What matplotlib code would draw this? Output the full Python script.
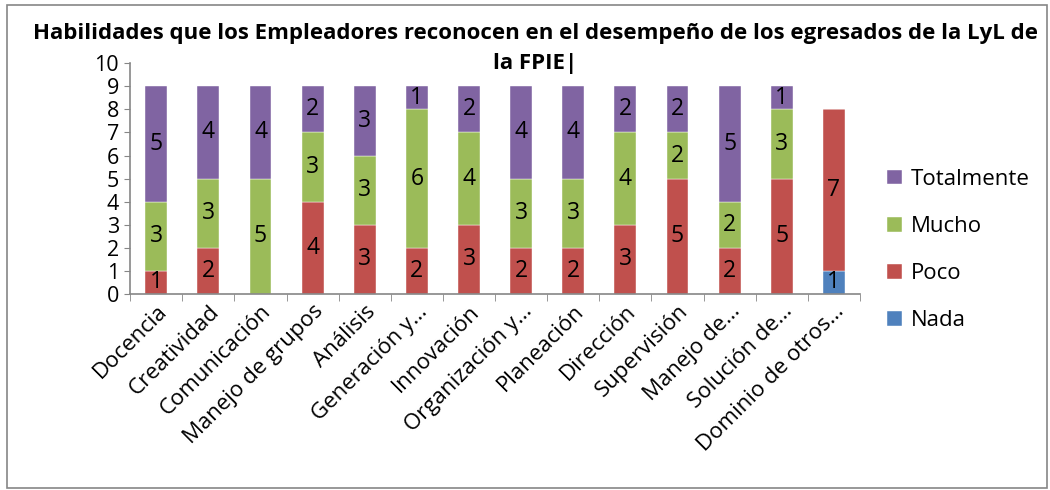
import numpy as np
import matplotlib.pyplot as plt
from matplotlib.patches import Rectangle

# Datos
categorias = ['Docencia', 'Creatividad', 'Comunicación', 'Manejo de grupos', 'Análisis',
              'Generación y…', 'Innovación', 'Organización y…', 'Planeación', 'Dirección',
              'Supervisión', 'Manejo de…', 'Solución de…', 'Dominio de otros…']
nada = [0, 0, 0, 0, 0, 0, 0, 0, 0, 0, 0, 0, 0, 1]
poco = [1, 2, 0, 4, 3, 2, 3, 2, 2, 3, 5, 2, 5, 7]
mucho = [3, 3, 5, 3, 3, 6, 4, 3, 3, 4, 2, 2, 3, 0]
totalmente = [5, 4, 4, 2, 3, 1, 2, 4, 4, 2, 2, 5, 1, 0]

series = [('Nada', nada, '#4F81BD'), ('Poco', poco, '#C0504D'),
          ('Mucho', mucho, '#9BBB59'), ('Totalmente', totalmente, '#8064A2')]

plt.rcParams['font.family'] = ['Open Sans', 'DejaVu Sans']

fig = plt.figure(figsize=(10.5, 4.9), dpi=100)
ax = fig.add_axes([0.124, 0.40, 0.695, 0.471])

x = np.arange(len(categorias))
bottom = np.zeros(len(categorias))
handles = []
for nombre, vals, color in series:
    vals = np.array(vals, dtype=float)
    b = ax.bar(x, vals, 0.42, bottom=bottom, color=color, label=nombre,
               edgecolor='white', linewidth=0.3)
    handles.append(b)
    for xi, v, bt in zip(x, vals, bottom):
        if v > 0:
            ax.text(xi, bt + v / 2, str(int(v)), ha='center', va='center',
                    fontsize=16.5, color='black')
    bottom += vals

ax.set_xlim(-0.5, len(categorias) - 0.5)
ax.set_ylim(0, 10)
ax.set_yticks(range(0, 11))
ax.set_xticks(x)
ax.set_xticklabels(categorias, rotation=45, ha='right', rotation_mode='anchor', fontsize=16)
ax.tick_params(axis='y', labelsize=15.5, length=4, color='#868686', pad=4)
ax.tick_params(axis='x', length=0, pad=5)
# marcas entre categorias
ax.set_xticks(np.arange(-0.5, len(categorias)), minor=True)
ax.tick_params(axis='x', which='minor', length=5, color='#868686')
for s in ['top', 'right']:
    ax.spines[s].set_visible(False)
for s in ['left', 'bottom']:
    ax.spines[s].set_color('#868686')
    ax.spines[s].set_linewidth(1.2)

ax.legend(handles[::-1], [h.get_label() for h in handles[::-1]], loc='center left',
          bbox_to_anchor=(1.01, 0.19), frameon=False, fontsize=16, handlelength=0.65,
          handleheight=0.65, labelspacing=1.18, handletextpad=0.4)

fig.text(0.51, 0.932, 'Habilidades que los Empleadores reconocen en el desempeño de los egresados de la LyL de',
         ha='center', va='center', fontsize=16, fontweight='bold')
fig.text(0.51, 0.870, 'la FPIE|', ha='center', va='center', fontsize=16, fontweight='bold')

fig.patches.append(Rectangle((0.007, 0.004), 0.99, 0.985, transform=fig.transFigure,
                             fill=False, edgecolor='#868686', linewidth=1.2))

fig.savefig('out.png', dpi=100)
